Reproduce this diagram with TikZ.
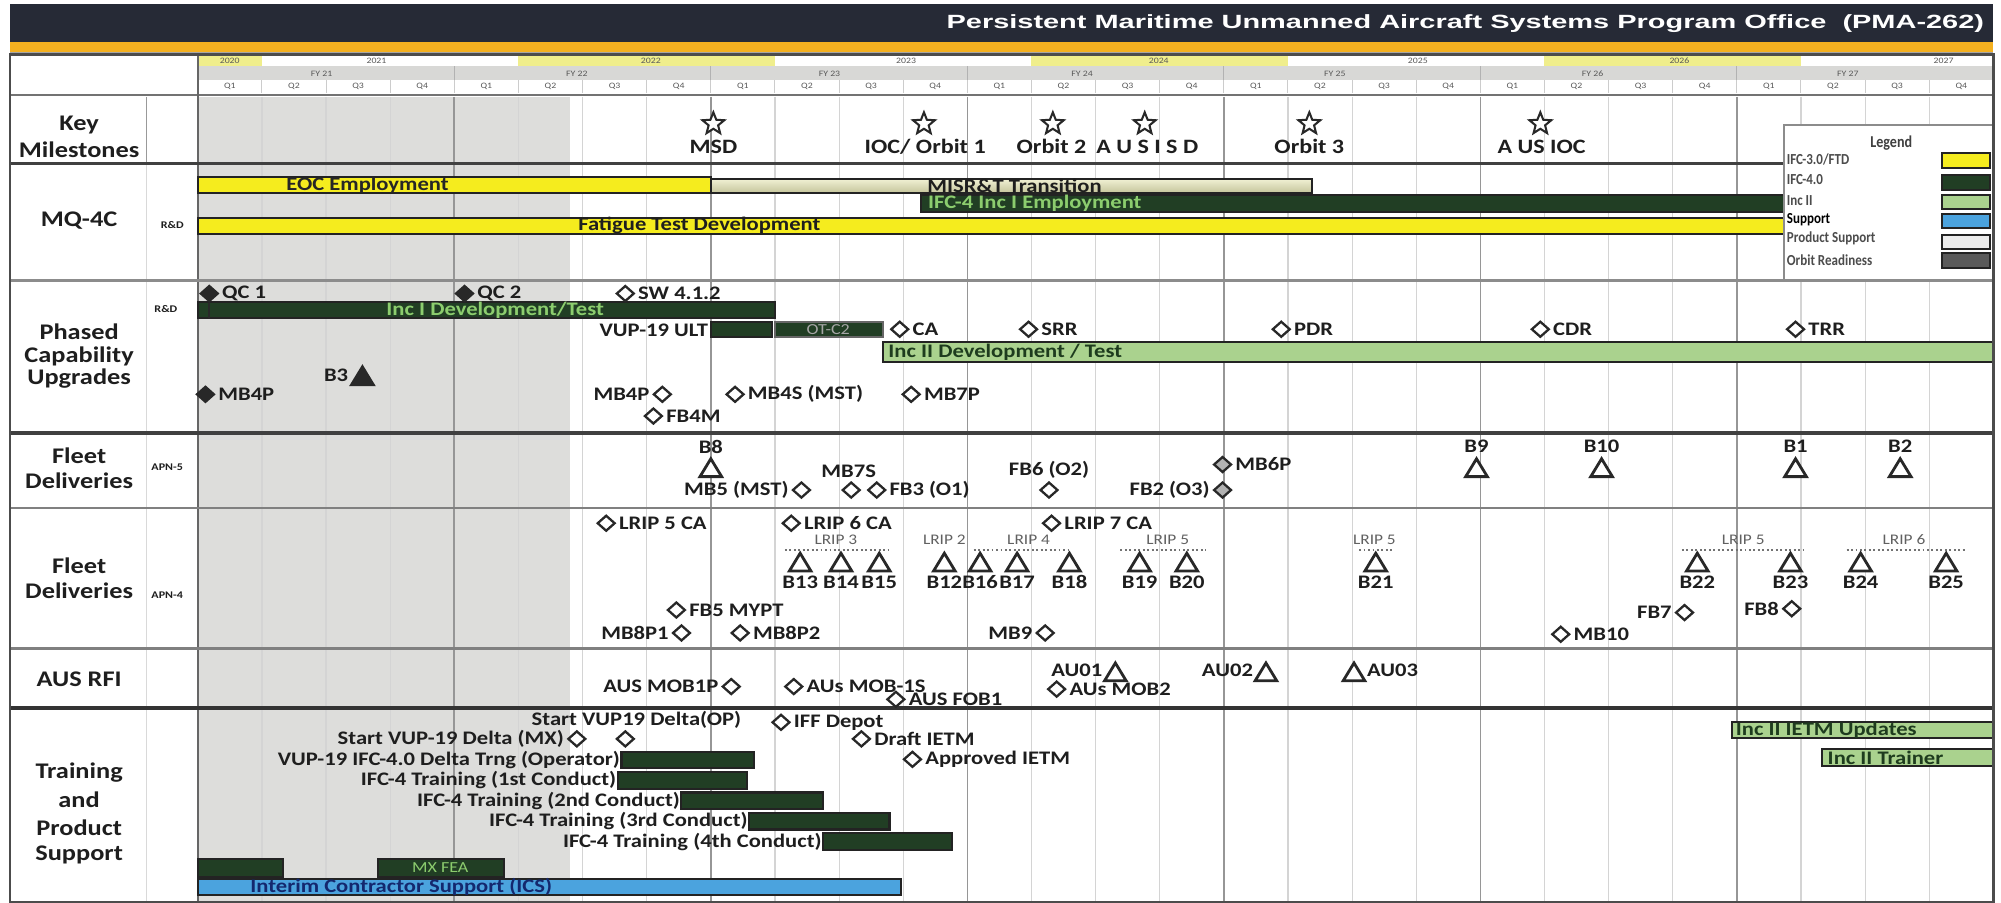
\documentclass[tikz,border=0pt]{standalone}
\usepackage{fontspec}
\setmainfont{Carlito}[FakeStretch=1.18]
\newfontfamily\titlefont{Liberation Sans}
\newfontfamily\condfont{Carlito}[FakeStretch=0.85]
\usetikzlibrary{shapes.geometric}
\definecolor{hdr}{RGB}{38,42,54}
\definecolor{orng}{RGB}{244,176,32}
\definecolor{txt}{RGB}{30,30,30}
\definecolor{mk}{RGB}{40,40,40}
\definecolor{ylw}{RGB}{245,236,30}
\definecolor{ylwpale}{RGB}{240,238,140}
\definecolor{dkg}{RGB}{33,62,36}
\definecolor{dkgtxt}{RGB}{140,205,110}
\definecolor{ltg}{RGB}{170,210,142}
\definecolor{ltgtxt}{RGB}{30,60,30}
\definecolor{blu}{RGB}{75,163,222}
\definecolor{blutxt}{RGB}{20,40,110}
\definecolor{cream}{RGB}{232,232,184}
\definecolor{past}{RGB}{221,221,219}
\definecolor{fyg}{RGB}{216,216,214}
\definecolor{grid}{RGB}{212,212,212}
\definecolor{gridd}{RGB}{150,150,150}
\definecolor{barline}{RGB}{35,35,35}
\definecolor{orb}{RGB}{90,90,90}
\definecolor{prod}{RGB}{236,236,236}
\newcommand\fsz[1]{\fontsize{#1}{#1}\selectfont}
\newcommand\DR[4][dia]{\node[#1] (#2) at (#3) {}; \node[lab,anchor=west] (#2-t) at ([xshift=2pt]#2.east) {#4};}
\newcommand\DL[4][dia]{\node[#1] (#2) at (#3) {}; \node[lab,anchor=east] (#2-t) at ([xshift=-2pt]#2.west) {#4};}
\newcommand\TRI[3][tri]{\coordinate (#2) at (#3); \draw[#1] ([shift={(-8.5,6.5)}]#2) -- ([shift={(0,-7.5)}]#2) -- ([shift={(8.5,6.5)}]#2) -- cycle;}
\newcommand\TB[3]{\TRI{#1}{#2,441} \node[lab] (#1-t) at (#2,456) {#3};}
\newcommand\TA[3]{\node[lab] (#1-t) at (#2,350) {#3}; \TRI{#1}{#2,367}}
\begin{document}
\begin{tikzpicture}[x=1pt,y=-1pt,
 lab/.style={font=\bfseries\fsz{15}, text=txt, inner sep=0pt},
 mlab/.style={font=\bfseries\fsz{16}, text=txt, inner sep=0pt},
 rowlab/.style={font=\bfseries\fsz{17.5}, text=txt, inner sep=0pt},
 sublab/.style={font=\bfseries\fsz{8}, text=txt, inner sep=0pt},
 lrip/.style={font=\fsz{11.5}, text=black!62, inner sep=0pt},
 hdrtxt/.style={font=\fsz{6.5}, text=black!65, inner sep=0pt},
 legtxt/.style={font=\condfont\bfseries\fsz{12}, text=black!70, inner sep=0pt, anchor=west},
 dia/.style={diamond, draw=mk, line width=1.8pt, fill=white, minimum width=14pt, minimum height=12.5pt, inner sep=0pt},
 fdia/.style={dia, fill=mk},
 gdia/.style={dia, fill=black!30},
 tri/.style={draw=mk, line width=2.2pt, fill=white, line join=miter},
 ftri/.style={tri, fill=mk},
 mstar/.style={star, star points=5, star point ratio=2.3, draw=mk, line width=1.6pt, fill=white, minimum size=18pt, inner sep=0pt},
 bar/.style={draw=barline, line width=1.6pt},
 dots/.style={draw=black!55, line width=1pt, dash pattern=on 1.5pt off 2pt},
]
\useasboundingbox (0,0) rectangle (1568,707);
\fill[white] (0,0) rectangle (1568,707);
% header band
\fill[hdr] (8,3) rectangle (1562,33);
\node[anchor=east, text=white, inner sep=0pt] (title) at (1555,18.5) {\resizebox{813pt}{\height}{\titlefont\bfseries\fsz{15}Persistent Maritime Unmanned Aircraft Systems Program Office~~(PMA-262)}};
\fill[orng] (8,33) rectangle (1562,41);
\fill[black!35] (8,41) rectangle (1562,42.5);
% year row
\fill[ylwpale] (155,42.5) rectangle (205,52);
\fill[ylwpale] (406,42.5) rectangle (607,52);
\fill[ylwpale] (808,42.5) rectangle (1009,52);
\fill[ylwpale] (1210,42.5) rectangle (1411,52);
\foreach \yy/\xx in {2020/180,2021/295,2022/510,2023/710,2024/908,2025/1111,2026/1316,2027/1523}
  \node[hdrtxt] (yr\yy) at (\xx,47.5) {\yy};
% FY row
\fill[fyg] (155,52) rectangle (1562,63);
\foreach \fy/\xx in {21/252,22/452,23/650,24/848,25/1046,26/1248,27/1448}
  \node[hdrtxt] (fy\fy) at (\xx,57.5) {FY \fy};
\foreach \k in {4,8,...,24} { \pgfmathsetmacro\xx{155+50.25*\k} \draw[black!30, line width=0.8pt] (\xx,52) -- (\xx,63); }
% Q row
\foreach \k in {0,...,27} {
  \pgfmathsetmacro\xx{155+50.25*\k+25.1}
  \pgfmathtruncatemacro\q{mod(\k,4)+1}
  \node[hdrtxt] (q\k) at (\xx,68) {Q\q};
}
\foreach \k in {1,...,27} { \pgfmathsetmacro\xx{155+50.25*\k} \draw[black!20, line width=0.8pt] (\xx,63) -- (\xx,73); }
\draw[black!55, line width=2.2pt] (8,74.5) -- (1562,74.5);
% past shading
\fill[past] (155,76) rectangle (447,707);
% grid
\foreach \k in {1,...,27} {
  \pgfmathsetmacro\xx{155+50.25*\k}
  \pgfmathtruncatemacro\m{mod(\k,4)}
  \ifnum\m=0 \draw[gridd, line width=1.3pt] (\xx,76) -- (\xx,707);
  \else \draw[grid, line width=0.9pt] (\xx,76) -- (\xx,707); \fi
}
\draw[black!40, line width=0.8pt] (115,76) -- (115,128);
\draw[black!15, line width=0.8pt] (115,128) -- (115,707);
\draw[black!60, line width=1.5pt] (155,42.5) -- (155,707);
% section lines
\draw[black!75, line width=2.8pt] (8,128) -- (1398,128);
\draw[black!45, line width=2pt] (8,220) -- (1562,220);
\draw[black!75, line width=3pt] (8,339) -- (1562,339);
\draw[black!50, line width=2pt] (8,398) -- (1562,398);
\draw[black!50, line width=2pt] (8,508) -- (1562,508);
\draw[black!80, line width=3pt] (8,555) -- (1562,555);
% row labels
\node[rowlab] (rk1) at (62,98) {Key};
\node[rowlab] (rk2) at (62,117) {Milestones};
\node[rowlab] (rmq) at (62,173) {MQ-4C};
\node[sublab] (rd1) at (135,176) {R\&D};
\node[rowlab] (rp1) at (62,260) {Phased};
\node[rowlab] (rp2) at (62,279) {Capability};
\node[rowlab] (rp3) at (62,297) {Upgrades};
\node[sublab] (rd2) at (130,242) {R\&D};
\node[rowlab] (rf1) at (62,357) {Fleet};
\node[rowlab] (rf2) at (62,377) {Deliveries};
\node[sublab] (apn5) at (131,366) {APN-5};
\node[rowlab] (rg1) at (62,443) {Fleet};
\node[rowlab] (rg2) at (62,463) {Deliveries};
\node[sublab] (apn4) at (131,466) {APN-4};
\node[rowlab] (raus) at (62,532) {AUS RFI};
\node[rowlab] (rt1) at (62,605) {Training};
\node[rowlab] (rt2) at (62,627) {and};
\node[rowlab] (rt3) at (62,649) {Product};
\node[rowlab] (rt4) at (62,670) {Support};
% key milestones
\node[mstar] (s1) at (559,97) {}; \node[mlab] (s1t) at (559,115) {MSD};
\node[mstar] (s2) at (724,97) {}; \node[mlab] (s2t) at (725,115) {IOC/ Orbit 1};
\node[mstar] (s3) at (825,97) {}; \node[mlab] (s3t) at (824,115) {Orbit 2};
\node[mstar] (s4) at (897,97) {}; \node[mlab] (s4t) at (899,115) {A U S I S D};
\node[mstar] (s5) at (1026,97) {}; \node[mlab] (s5t) at (1026,115) {Orbit 3};
\node[mstar] (s6) at (1207,97) {}; \node[mlab] (s6t) at (1208,115) {A US IOC};
% MQ-4C bars
\draw[bar, fill=ylw] (155,139) rectangle (557,151);
\node[lab, text=black!85] (eoc) at (288,145) {EOC Employment};
\draw[bar, top color=cream!60!white, bottom color=cream!85!black] (557,140) rectangle (1028,151);
\node[lab] (misr) at (795,145.5) {MISR\&T Transition};
\draw[bar, fill=dkg] (722,153) rectangle (1398,166);
\node[lab, text=dkgtxt, anchor=west] (ifc) at (727,159.5) {IFC-4 Inc I Employment};
\draw[bar, fill=ylw] (155,171) rectangle (1398,183);
\node[lab] (fat) at (548,177) {Fatigue Test Development};
% Phased capability upgrades
\draw[bar, fill=dkg] (155,237) rectangle (607,249);
\node[lab, text=dkgtxt] (inc1) at (388,243) {Inc I Development/Test};
\node[lab, anchor=east] (vup) at (555,258.5) {VUP-19 ULT};
\draw[bar, fill=dkg] (557,252) rectangle (605,264);
\draw[bar, fill=dkg, draw=black!60] (607,252) rectangle (692,264);
\node[lab, text=black!35, font=\fsz{12}] (otc2) at (649,258) {OT-C2};
\draw[bar, fill=ltg] (692,268) rectangle (1562,284);
\node[lab, text=ltgtxt, anchor=west] (inc2) at (696,276) {Inc II Development / Test};
\DR[fdia]{qc1}{164,230}{QC 1}
\draw[mk, line width=1.3pt] (qc1.south) -- (164,249);
\DR[fdia]{qc2}{364,230}{QC 2}
\DR{sw}{490,230}{SW 4.1.2}
\DR{ca}{705,258}{CA}
\DR{srr}{806,258}{SRR}
\DR{pdr}{1004,258}{PDR}
\DR{cdr}{1207,258}{CDR}
\DR{trr}{1407,258}{TRR}
\TRI[ftri]{b3}{284,295} \node[lab, anchor=east] (b3-t) at (273,294) {B3};
\DR[fdia]{mb4pa}{161,309}{MB4P}
\DL{mb4pb}{519,309}{MB4P}
\DR{mb4s}{576,309}{MB4S (MST)}
\DR{mb7p}{714,309}{MB7P}
\DR{fb4m}{512,326}{FB4M}
% Fleet deliveries APN-5
\TA{b8}{557}{B8}
\node[lab] (mb7s) at (665,369) {MB7S};
\DL{mb5}{628,384}{MB5 (MST)}
\node[dia] (fb3a) at (667,384) {};
\DR{fb3}{687,384}{FB3 (O1)}
\node[lab] (fb6-t) at (822,368) {FB6 (O2)}; \node[dia] (fb6) at (822,384) {};
\DL[gdia]{fb2}{958,384}{FB2 (O3)}
\DR[gdia]{mb6p}{958,364}{MB6P}
\TA{b9}{1157}{B9}
\TA{b10}{1255}{B10}
\TA{b1}{1407}{B1}
\TA{b2}{1489}{B2}
% Fleet deliveries APN-4
\DR{l5ca}{475,410}{LRIP 5 CA}
\DR{l6ca}{620,410}{LRIP 6 CA}
\DR{l7ca}{824,410}{LRIP 7 CA}
\node[lrip] (lr3) at (655,423) {LRIP 3};
\node[lrip] (lr2) at (740,423) {LRIP 2};
\node[lrip] (lr4) at (806,423) {LRIP 4};
\node[lrip] (lr5a) at (915,423) {LRIP 5};
\node[lrip] (lr5b) at (1077,423) {LRIP 5};
\node[lrip] (lr5c) at (1366,423) {LRIP 5};
\node[lrip] (lr6) at (1492,423) {LRIP 6};
\draw[dots] (615,431) -- (697,431);
\draw[dots] (763,431) -- (840,431);
\draw[dots] (878,431) -- (945,431);
\draw[dots] (1065,431) -- (1092,431);
\draw[dots] (1318,431) -- (1415,431);
\draw[dots] (1447,431) -- (1540,431);
\TB{b13}{627}{B13}
\TB{b14}{659}{B14}
\TB{b15}{689}{B15}
\TB{b12}{740}{B12}
\TB{b16}{768}{B16}
\TB{b17}{797}{B17}
\TB{b18}{838}{B18}
\TB{b19}{893}{B19}
\TB{b20}{930}{B20}
\TB{b21}{1078}{B21}
\TB{b22}{1330}{B22}
\TB{b23}{1403}{B23}
\TB{b24}{1458}{B24}
\TB{b25}{1525}{B25}
\DR{fb5}{530,478}{FB5 MYPT}
\DL{mb8p1}{534,496}{MB8P1}
\DR{mb8p2}{580,496}{MB8P2}
\DL{mb9}{819,496}{MB9}
\DL{fb7}{1320,480}{FB7}
\DL{fb8}{1404,477}{FB8}
\DR{mb10}{1223,497}{MB10}
% AUS RFI
\DL{mob1p}{573,538}{AUS MOB1P}
\DR{mob1s}{622,538}{AUs MOB-1S}
\DR{fob1}{702,548}{AUS FOB1}
\DR{mob2}{828,540}{AUs MOB2}
\TRI{au01}{874,527} \node[lab, anchor=east] (au01-t) at (864,525) {AU01};
\TRI{au02}{992,527} \node[lab, anchor=east] (au02-t) at (982,525) {AU02};
\TRI{au03}{1061,527} \node[lab, anchor=west] (au03-t) at (1071,525) {AU03};
% Training and product support
\node[lab, anchor=east] (svo) at (581,564) {Start VUP19 Delta(OP)};
\DR{iff}{612,566}{IFF Depot}
\DL{svm}{452,579}{Start VUP-19 Delta (MX)}
\node[dia] (svm2) at (490,579) {};
\DR{draft}{675,579}{Draft IETM}
\DR{appr}{715,595}{Approved IETM}
\draw[bar, fill=dkg] (487,589) rectangle (591,602);
\node[lab, anchor=east] (tr0) at (486,595.5) {VUP-19 IFC-4.0 Delta Trng (Operator)};
\draw[bar, fill=dkg] (484,605) rectangle (585,618);
\node[lab, anchor=east] (tr1) at (483,611.5) {IFC-4 Training (1st Conduct)};
\draw[bar, fill=dkg] (534,621) rectangle (645,634);
\node[lab, anchor=east] (tr2) at (533,627.5) {IFC-4 Training (2nd Conduct)};
\draw[bar, fill=dkg] (587,637) rectangle (697,650);
\node[lab, anchor=east] (tr3) at (586,643.5) {IFC-4 Training (3rd Conduct)};
\draw[bar, fill=dkg] (645,653) rectangle (746,666);
\node[lab, anchor=east] (tr4) at (644,659.5) {IFC-4 Training (4th Conduct)};
\draw[bar, fill=dkg] (155,673) rectangle (222,687);
\draw[bar, fill=dkg] (296,673) rectangle (395,687);
\node[lab, text=dkgtxt, font=\fsz{12}] (mxfea) at (345,680) {MX FEA};
\draw[bar, fill=blu] (155,689) rectangle (706,701);
\node[lab, text=blutxt, anchor=west] (ics) at (196,695) {Interim Contractor Support (ICS)};
\begin{scope}
\clip (155,556) rectangle (1561,707);
\draw[bar, fill=ltg] (1357,566) rectangle (1564,578);
\node[lab, text=ltgtxt, anchor=west] (ietm) at (1360,572) {Inc II IETM Updates};
\draw[bar, fill=ltg] (1428,587) rectangle (1564,600);
\node[lab, text=ltgtxt, anchor=west] (trainer) at (1432,593.5) {Inc II Trainer};
\end{scope}
% legend
\draw[fill=white, draw=black!45, line width=1pt] (1398,98) rectangle (1562,219);
\node[font=\condfont\bfseries\fsz{13}, text=black!75, inner sep=0pt] (legtitle) at (1482,112) {Legend};
\node[legtxt] (lg1) at (1400,125) {IFC-3.0/FTD};
\node[legtxt] (lg2) at (1400,141) {IFC-4.0};
\node[legtxt] (lg3) at (1400,157) {Inc II};
\node[legtxt, text=black] (lg4) at (1400,172) {Support};
\node[legtxt] (lg5) at (1400,187) {Product Support};
\node[legtxt] (lg6) at (1400,204) {Orbit Readiness};
\draw[bar, fill=ylw] (1522,120) rectangle (1559,132);
\draw[bar, fill=dkg] (1522,137) rectangle (1559,149);
\draw[bar, fill=ltg] (1522,153) rectangle (1559,164);
\draw[bar, fill=blu] (1522,168) rectangle (1559,179);
\draw[bar, fill=prod] (1522,184) rectangle (1559,195);
\draw[bar, fill=orb] (1522,198) rectangle (1559,210);
% frame
\draw[black!70, line width=2pt] (8,42.5) rectangle (1562,707);
\end{tikzpicture}
\end{document}
